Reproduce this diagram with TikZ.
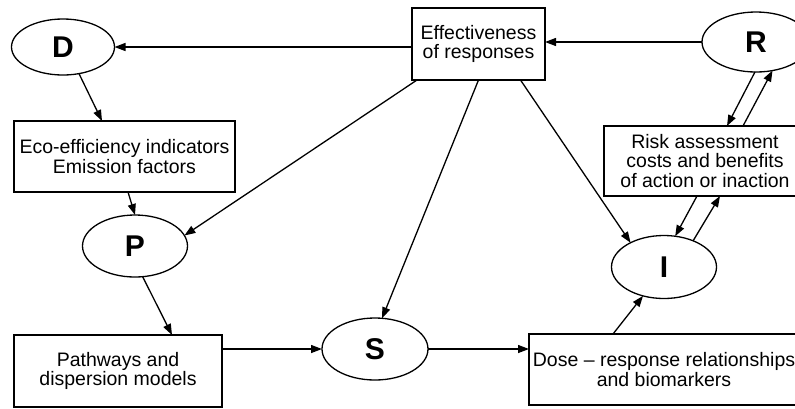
\documentclass[tikz,border=0pt]{standalone}
\usepackage{fontspec}
\setmainfont{Liberation Sans}
\usetikzlibrary{shapes.geometric,arrows.meta}
\begin{document}
\begin{tikzpicture}[x=1pt,y=-1pt,
  every node/.style={inner sep=0pt,outer sep=0pt},
  box/.style={draw,line width=1.3pt,rectangle,align=center,
    font=\fontsize{19.5}{19.5}\selectfont},
  letter/.style={draw,line width=1.3pt,ellipse,
    font=\fontsize{30}{30}\selectfont\bfseries},
  arr/.style={line width=1.3pt,-{Triangle[length=11pt,width=8pt]}}]
\useasboundingbox (0,0) rectangle (795,408);

% DPSIR elements
\node[letter,minimum width=103pt,minimum height=56pt] (D) at (63,47) {D};
\node[letter,minimum width=108pt,minimum height=60pt] (R) at (756,42) {R};
\node[letter,minimum width=105pt,minimum height=62pt] (P) at (135,246) {P};
\node[letter,minimum width=106pt,minimum height=62pt] (S) at (375,349) {S};
\node[letter,minimum width=105pt,minimum height=63pt] (I) at (664,267) {I};

% tools and indicators
\node[box,minimum width=221pt,minimum height=71pt] (Eco) at (124.5,156.5)
  {Eco-efficiency indicators\\Emission factors};
\node[box,minimum width=133pt,minimum height=72pt] (Eff) at (478.5,44)
  {Effectiveness\\of responses};
\node[box,minimum width=202pt,minimum height=70pt] (Risk) at (705,161)
  {Risk assessment\\costs and benefits\\of action or inaction};
\node[box,minimum width=208pt,minimum height=72pt] (Path) at (118,371)
  {Pathways and\\dispersion models};
\node[box,minimum width=270pt,minimum height=71pt] (Dose) at (664,369.5)
  {Dose -- response relationships\\and biomarkers};

% connections
\draw[arr] (Eff.west |- D.east) -- (D.east);
\draw[arr] (R.west) -- (R.west -| Eff.east);
\draw[arr] (D.-59) -- ([xshift=-22.5pt]Eco.north);
\draw[arr] ([xshift=3.5pt]Eco.south) -- (P.north);
\draw[arr] ([xshift=5pt]Eff.south west) -- (P.12);
\draw[arr] (Eff.south) -- (S.77);
\draw[arr] ([xshift=42pt]Eff.south) -- (I.144);
\draw[arr] (P.-76) -- ([xshift=54pt]Path.north);
\draw[arr] (S.west -| Path.east) -- (S.west);
\draw[arr] (S.east) -- (S.east -| Dose.west);
\draw[arr] ([xshift=-51pt]Dose.north) -- (I.-126);
\draw[arr] (R.-92) -- ([xshift=22pt]Risk.north);
\draw[arr] ([xshift=38pt]Risk.north) -- (R.-60);
\draw[arr] ([xshift=-8pt]Risk.south) -- (I.70);
\draw[arr] (I.42) -- ([xshift=15pt]Risk.south);
\end{tikzpicture}
\end{document}
